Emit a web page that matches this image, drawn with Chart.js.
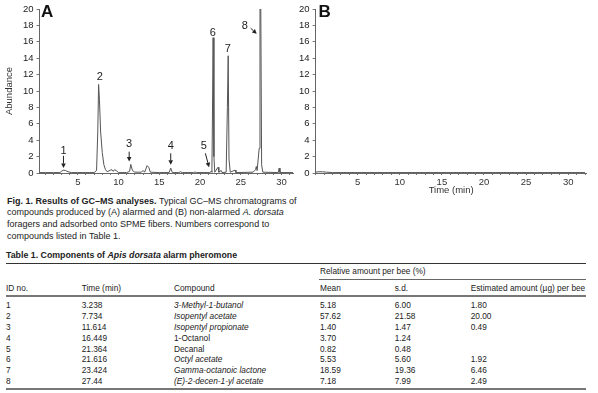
<!DOCTYPE html>
<html>
<head>
<meta charset="utf-8">
<script src="https://cdn.jsdelivr.net/npm/chart.js@4/dist/chart.umd.min.js"></script>
<style>
html,body{margin:0;padding:0;background:#fff;width:598px;height:393px;overflow:hidden;}
body{position:relative;font-family:"Liberation Sans",Arial,sans-serif;color:#222;}
canvas{position:absolute;top:0;z-index:5;}
#cA{left:0;}
#cB{left:298px;}
#caption{position:absolute;left:7px;top:195.5px;font-size:9px;line-height:11.9px;white-space:nowrap;color:#222;z-index:1;}
#tbl{position:absolute;left:0;top:0;width:0;height:0;z-index:1;}
.t{position:absolute;white-space:nowrap;font-size:8.3px;line-height:10px;color:#222;transform:translateY(-50%);}
.ttl{position:absolute;left:6px;top:255px;transform:translateY(-50%);font-size:8.8px;font-weight:bold;white-space:nowrap;color:#222;z-index:1;}
.ln{position:absolute;height:0;}
</style>
</head>
<body>
<div id="caption"><b>Fig. 1. Results of GC–MS analyses.</b> Typical GC–MS chromatograms of<br>compounds produced by (A) alarmed and (B) non-alarmed <i>A. dorsata</i><br>foragers and adsorbed onto SPME fibers. Numbers correspond to<br>compounds listed in Table 1.</div>
<div class="ttl">Table 1. Components of <i>Apis dorsata</i> alarm pheromone</div>
<div id="tbl"></div>
<canvas id="cA" width="298" height="190"></canvas>
<canvas id="cB" width="300" height="198"></canvas>
<script>
// ---- Chromatogram A (alarmed): traced retention time (min) / abundance ----
const timesA = [0.3,1,2,2.8,3.0,3.2,3.5,3.8,4.2,5,6,7.0,7.3,7.45,7.55,7.65,7.8,8.0,8.2,8.4,8.6,9.0,9.2,9.35,9.5,9.7,10.0,11.0,11.35,11.5,11.7,12.0,12.8,13.0,13.2,13.5,13.7,13.9,15,16.2,16.4,16.6,17.4,17.6,17.8,19.2,19.4,19.6,21.2,21.36,21.45,21.5,21.6,21.7,21.8,22.2,22.3,22.6,22.7,23.2,23.35,23.45,23.55,23.6,23.7,24.3,24.4,26.5,26.8,26.9,27.0,27.25,27.35,27.45,27.55,27.7,29.6,29.7,29.8,31.4];
const abundA = [0.05,0.05,0.05,0.05,0.2,0.35,0.3,0.15,0.05,0.05,0.05,0.05,0.3,5,10.8,9,5,2.5,1.0,0.4,0.15,0.35,0.4,0.2,0.4,0.3,0.05,0.05,0.2,1.05,0.3,0.1,0.1,0.3,0.1,0.9,0.7,0.1,0.05,0.05,0.6,0.05,0.05,0.15,0.05,0.05,0.12,0.05,0.05,0.2,0.1,5,16.5,2,0.1,0.7,0.1,0.3,0.05,0.1,8,14.3,1.7,1.7,0.1,0.35,0.05,0.1,0.4,0.8,0.3,3,20,20,1,0.1,0.05,0.6,0.05,0.05];
// ---- Chromatogram B (non-alarmed) ----
const timesB = [0,0.3,0.8,1.3,2,32];
const abundB = [0.1,0.15,0.15,0.1,0.05,0.05];
// ---- Axis ticks ----
const xTickLabels = [5,10,15,20,25,30];
const yTickValues = [0,2,4,6,8,10,12,14,16,18,20];
// ---- Peak labels (ID, label time, label abundance) ----
const peakIds = ['1','2','3','4','5','6','7','8'];
const peakLabelT = [3.24,7.7,11.3,16.4,20.45,21.55,23.4,25.5];
const peakLabelV = [2.7,11.7,3.5,3.3,3.3,17.1,15.1,17.9];
// arrows: [t0,v0,t1,v1] or null
const peakArrows = [[3.24,2.1,3.24,0.6],null,[11.3,2.6,11.3,1.4],[16.4,2.4,16.4,1.0],[20.65,2.4,21.1,0.7],null,null,[26.2,17.66,26.95,16.98]];
// ---- Table 1 ----
const ids = ['1','2','3','4','5','6','7','8'];
const timesMin = ['3.238','7.734','11.614','16.449','21.364','21.616','23.424','27.44'];
const compounds = ['3-Methyl-1-butanol','Isopentyl acetate','Isopentyl propionate','1-Octanol','Decanal','Octyl acetate','Gamma-octanoic lactone','(E)-2-decen-1-yl acetate'];
const compoundItalic = [true,true,true,false,false,true,true,true];
const means = ['5.18','57.62','1.40','3.70','0.82','5.53','18.59','7.18'];
const sds = ['6.00','21.58','1.47','1.24','0.48','5.60','19.36','7.99'];
const estimates = ['1.80','20.00','0.49','','','1.92','6.46','2.49'];
const headers = ['ID no.','Time (min)','Compound','Mean','s.d.','Estimated amount (µg) per bee'];

const FONT = '"Liberation Sans", Arial, sans-serif';

const labelPlugin = {
  id:'peakLabels',
  afterDraw(chart, args, opts){
    const ctx = chart.ctx, xs = chart.scales.x, ys = chart.scales.y;
    ctx.save();
    if (opts.panel){
      ctx.font = 'bold 17px ' + FONT;
      ctx.fillStyle = '#111';
      ctx.textAlign = 'center'; ctx.textBaseline = 'middle';
      ctx.fillText(opts.panel, xs.getPixelForValue(opts.panelT), ys.getPixelForValue(opts.panelV));
    }
    if (opts.peaks){
      ctx.font = '11px ' + FONT;
      ctx.fillStyle = '#222'; ctx.strokeStyle = '#222'; ctx.lineWidth = 1;
      ctx.textAlign = 'center'; ctx.textBaseline = 'middle';
      peakIds.forEach((id,i)=>{
        ctx.fillText(id, xs.getPixelForValue(peakLabelT[i]), ys.getPixelForValue(peakLabelV[i]));
        const a = peakArrows[i];
        if (a){
          const x0 = xs.getPixelForValue(a[0]), y0 = ys.getPixelForValue(a[1]);
          const x1 = xs.getPixelForValue(a[2]), y1 = ys.getPixelForValue(a[3]);
          const ang = Math.atan2(y1-y0, x1-x0), h = 4.5, w = 2.3;
          const bx = x1 - h*Math.cos(ang), by = y1 - h*Math.sin(ang);
          ctx.beginPath(); ctx.moveTo(x0,y0); ctx.lineTo(bx,by); ctx.stroke();
          ctx.beginPath(); ctx.moveTo(x1,y1);
          ctx.lineTo(bx + w*Math.sin(ang), by - w*Math.cos(ang));
          ctx.lineTo(bx - w*Math.sin(ang), by + w*Math.cos(ang));
          ctx.closePath(); ctx.fill();
        }
      });
    }
    ctx.restore();
  }
};

function makeChart(id, times, vals, cfg){
  return new Chart(document.getElementById(id), {
    type:'line',
    data:{datasets:[{data: times.map((t,i)=>({x:t,y:vals[i]})), borderColor:'#555', borderWidth:1, pointRadius:0, tension:0, fill:false}]},
    options:{
      responsive:false, animation:false, devicePixelRatio:1,
      layout:{padding:{top:9, right:cfg.padRight, left:0, bottom:0}},
      plugins:{legend:{display:false}, tooltip:{enabled:false}, peakLabels:cfg.labels},
      scales:{
        x:{type:'linear', min:cfg.xMin, max:cfg.xMax,
           grid:{display:true, drawOnChartArea:false, tickLength:2, color:'#777'},
           border:{color:'#666', width:1},
           afterBuildTicks:s=>{ const tk=[]; for(let v=Math.ceil(cfg.xMin); v<=cfg.xMax; v++) tk.push({value:v}); s.ticks = tk; },
           ticks:{autoSkip:false, maxRotation:0, minRotation:0, padding:2, color:'#333',
                  font:{size:9.5, family:FONT},
                  callback:v=> xTickLabels.includes(v) ? String(v) : ''},
           title:{display:!!cfg.xTitle, text:cfg.xTitle||'', color:'#333', font:{size:9.5, family:FONT}, padding:{top:0,bottom:2}},
           afterFit:s=>{s.height = cfg.xH;}},
        y:{min:0, max:20,
           grid:{display:true, drawOnChartArea:false, tickLength:3, color:'#777'},
           border:{color:'#666', width:1},
           afterBuildTicks:s=>{ s.ticks = yTickValues.map(v=>({value:v})); },
           ticks:{autoSkip:false, padding:3, color:'#222', font:{size:9.5, family:FONT}, callback:v=>String(v)},
           title:{display:!!cfg.yTitle, text:cfg.yTitle||'', color:'#333', font:{size:9.5, family:FONT}, padding:{top:4,bottom:2}},
           afterFit:s=>{s.width = cfg.yW;}}
      }
    },
    plugins:[labelPlugin]
  });
}

makeChart('cA', timesA, abundA, {padRight:5, xMin:0.3, xMax:31.4, xH:17, yW:39.5, yTitle:'Abundance',
  labels:{panel:'A', panelT:1.24, panelV:19.6, peaks:true}});
makeChart('cB', timesB, abundB, {padRight:11.3, xMin:0, xMax:32.2, xH:25, yW:17.6, xTitle:'Time (min)',
  labels:{panel:'B', panelT:1.08, panelV:19.6, peaks:false}});

// ---- Table ----
const tbl = document.getElementById('tbl');
const colX = [6, 81.7, 174, 320, 394.7, 470.7];
function addText(x, y, txt, italic){
  const d = document.createElement('div');
  d.className = 't'; d.style.left = x+'px'; d.style.top = y+'px';
  if (italic) d.style.fontStyle = 'italic';
  d.textContent = txt; tbl.appendChild(d);
}
function addLine(x0, x1, y, w, c){
  const d = document.createElement('div');
  d.className = 'ln'; d.style.left = x0+'px'; d.style.width = (x1-x0)+'px';
  d.style.top = (y - w/2)+'px'; d.style.borderTop = w+'px solid '+c; tbl.appendChild(d);
}
addLine(6, 586, 264, 1.5, '#333');
addText(320, 270.5, 'Relative amount per bee (%)');
addLine(319, 586, 279.5, 1.5, '#666');
headers.forEach((h,i)=>addText(colX[i], 287.5, h));
addLine(6, 586, 295.7, 2, '#777');
ids.forEach((id,i)=>{
  const y = 305.3 + i*10.8;
  addText(colX[0], y, id);
  addText(colX[1], y, timesMin[i]);
  addText(colX[2], y, compounds[i], compoundItalic[i]);
  addText(colX[3], y, means[i]);
  addText(colX[4], y, sds[i]);
  addText(colX[5], y, estimates[i]);
});
addLine(6, 586, 389, 2, '#777');
</script>
</body>
</html>
